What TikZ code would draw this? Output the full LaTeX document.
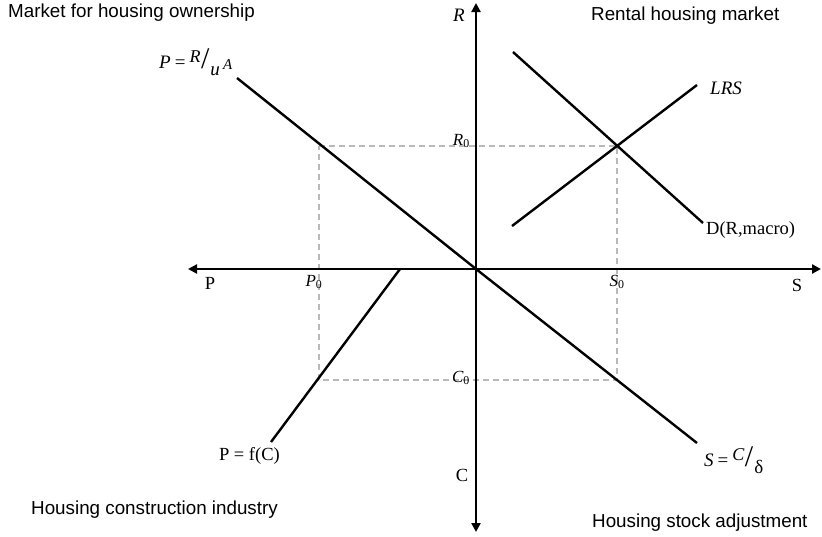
\documentclass[tikz,border=0pt]{standalone}
\usepackage{fontspec}
\setmainfont{Liberation Sans}
\newfontfamily\serifcam{Liberation Serif}
\usetikzlibrary{arrows.meta}
\newcommand{\frc}[2]{\raisebox{6pt}{\fontsize{18}{20}\selectfont #1}\kern0.5pt{\fontsize{30}{32}\selectfont\upshape /}\kern1pt\raisebox{-7pt}{\fontsize{19}{21}\selectfont #2}}
\newcommand{\eqs}{\hspace{4pt}{\upshape =}\hspace{4pt}}
\begin{document}
\begin{tikzpicture}[x=1pt,y=-1pt,
  axisline/.style={line width=2.4pt,{Triangle[length=9pt,width=9pt]}-{Triangle[length=9pt,width=9pt]}},
  curve/.style={line width=2.4pt},
  guide/.style={line width=1.4pt,gray!55,dash pattern=on 6pt off 4pt},
  quad/.style={font=\fontsize{18.8}{22}\selectfont,inner sep=0pt},
  mlab/.style={font=\serifcam\itshape\fontsize{19}{22}\selectfont,inner sep=0pt},
  slab/.style={font=\serifcam\fontsize{18.5}{22}\selectfont,inner sep=0pt},
  small/.style={font=\serifcam\itshape\fontsize{17}{19}\selectfont,inner sep=0pt}]
\useasboundingbox (0,0) rectangle (822,536);
% coordinates
\coordinate (O) at (476,269);
\coordinate (Ltop) at (476,3);
\coordinate (Lbot) at (476,532);
\coordinate (Lleft) at (188,269);
\coordinate (Lright) at (821,269);
\coordinate (A1) at (237,78);
\coordinate (B2) at (697,443);
\coordinate (F1) at (400,269);
\coordinate (F2) at (271,442);
\coordinate (LRS1) at (512,226);
\coordinate (LRS2) at (697,85);
\coordinate (D1) at (513,52);
\coordinate (D2) at (703,223);
\coordinate (Q1) at (319,146);
\coordinate (Q2) at (617,146);
\coordinate (Q3) at (617,380);
\coordinate (Q4) at (319,380);
% guide rectangle
\draw[guide] (Q1) -- (Q2) -- (Q3) -- (Q4) -- cycle;
% axes
\draw[axisline] (Lleft) -- (Lright);
\draw[axisline] (Lbot) -- (Ltop);
% curves
\draw[curve] (A1) -- (O);
\draw[curve] (O) -- (B2);
\draw[curve] (F1) -- (F2);
\draw[curve] (LRS1) -- (LRS2);
\draw[curve] (D1) -- (D2);
% quadrant titles
\node[quad,anchor=west] (t1) at (8,13) {Market for housing ownership};
\node[quad,anchor=west] (t2) at (591,16) {Rental housing market};
\node[quad,anchor=west] (t3) at (31,510) {Housing construction industry};
\node[quad,anchor=west] (t4) at (592,523) {Housing stock adjustment};
% axis labels
\node[mlab,anchor=east] (lR) at (465,15) {R};
\node[slab] (lP) at (210,283) {P};
\node[slab] (lS) at (797,285) {S};
\node[slab] (lC) at (462,475) {C};
% small labels
\node[small,anchor=east] (lR0) at (470,141) {R\textsubscript{\upshape 0}};
\node[small] (lP0) at (314,282) {P\textsubscript{\upshape 0}};
\node[small] (lS0) at (617,282) {S\textsubscript{\upshape 0}};
\node[small,anchor=east] (lC0) at (470,378) {C\textsubscript{\upshape 0}};
% curve labels
\node[mlab,anchor=west] (eqA) at (159,62) {P\eqs\frc{R}{u\,{\fontsize{15}{17}\selectfont\raisebox{6pt}{A}}}};
\node[mlab,anchor=west] (eqLRS) at (710,88) {LRS};
\node[slab,anchor=west] (eqD) at (706,230) {D(R,macro)};
\node[slab,anchor=east] (eqF) at (280,456) {P = f(C)};
\node[mlab,anchor=west] (eqS) at (704,460) {S\eqs\frc{C}{\upshape δ}};
\end{tikzpicture}
\end{document}
